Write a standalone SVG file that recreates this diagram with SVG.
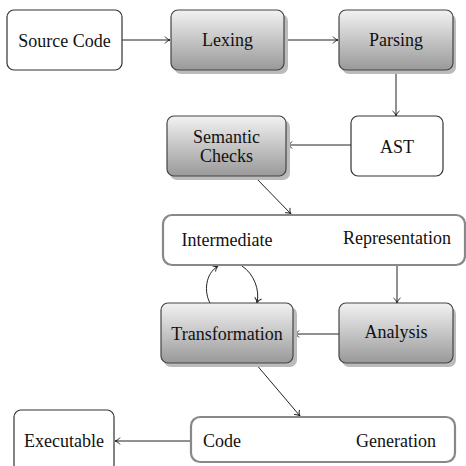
<svg xmlns="http://www.w3.org/2000/svg" width="466" height="466" viewBox="0 0 466 466" font-family="'Liberation Serif', 'Times New Roman', Times, 'DejaVu Serif', serif">
<defs>
<linearGradient id="g" x1="0" y1="0" x2="0" y2="1">
<stop offset="0" stop-color="#f2f2f2"/>
<stop offset="1" stop-color="#999999"/>
</linearGradient>
<marker id="a" markerWidth="10" markerHeight="10" refX="8" refY="5" orient="auto" markerUnits="userSpaceOnUse">
<path d="M3,1.5 Q5,4.5 8,5 Q5,5.5 3,8.5" fill="none" stroke="#222" stroke-width="1"/>
</marker>
</defs>
<style>
text{font-family:'Liberation Serif','Times New Roman',Times,serif;font-size:18px;fill:#111;text-anchor:middle}
.w{fill:#fff;stroke:#333;stroke-width:1.2}
.s{fill:url(#g);stroke:#444;stroke-width:1.2}
.sh{fill:#bbb}
.t{fill:#fff;stroke:#888;stroke-width:2.2}
.c{fill:none;stroke:#222;stroke-width:1;marker-end:url(#a)}
</style>
<g id="connectors">
<path class="c" d="M122,40 H170"/>
<path class="c" d="M284,40 H338"/>
<path class="c" d="M396,70 V116"/>
<path class="c" d="M351,145 H287"/>
<path class="c" d="M256,178 L291,214"/>
<path class="c" d="M397,265 V303"/>
<path class="c" d="M339,334 H294"/>
<path class="c" d="M210,303 C204,292 205,274 218,266"/>
<path class="c" d="M242,266 C254,274 260,290 257,303"/>
<path class="c" d="M255,363 L300,416"/>
<path class="c" d="M191,441 H115"/>
</g>
<g id="source-code">
<rect class="w" x="7" y="10" width="115" height="60" rx="7"/>
<text x="64.5" y="47">Source Code</text>
</g>
<g id="lexing">
<rect class="sh" x="174" y="14" width="114" height="60" rx="7"/>
<rect class="s" x="171" y="10" width="113" height="60" rx="7"/>
<text x="227.5" y="46">Lexing</text>
</g>
<g id="parsing">
<rect class="sh" x="342" y="14" width="114" height="60" rx="7"/>
<rect class="s" x="339" y="10" width="114" height="60" rx="7"/>
<text x="396" y="46">Parsing</text>
</g>
<g id="ast">
<rect class="w" x="351" y="116" width="92" height="60" rx="7"/>
<text x="397" y="153">AST</text>
</g>
<g id="semantic-checks">
<rect class="sh" x="170" y="120" width="120" height="60" rx="7"/>
<rect class="s" x="167" y="116" width="119" height="60" rx="7"/>
<text x="226.5" y="143">Semantic</text>
<text x="226.5" y="162">Checks</text>
</g>
<g id="intermediate-representation">
<rect class="t" x="163" y="215" width="302" height="50" rx="9"/>
<text x="227" y="246">Intermediate</text>
<text x="397" y="244">Representation</text>
</g>
<g id="transformation">
<rect class="sh" x="164" y="307" width="133" height="60" rx="7"/>
<rect class="s" x="161" y="303" width="132" height="60" rx="7"/>
<text x="227" y="340">Transformation</text>
</g>
<g id="analysis">
<rect class="sh" x="342" y="307" width="114" height="60" rx="7"/>
<rect class="s" x="339" y="303" width="114" height="60" rx="7"/>
<text x="396" y="338">Analysis</text>
</g>
<g id="code-generation">
<rect class="t" x="191" y="417" width="264" height="45" rx="9"/>
<text x="222" y="447">Code</text>
<text x="396" y="447">Generation</text>
</g>
<g id="executable">
<rect class="w" x="14" y="410" width="100" height="70" rx="7"/>
<text x="64" y="447">Executable</text>
</g>
</svg>
